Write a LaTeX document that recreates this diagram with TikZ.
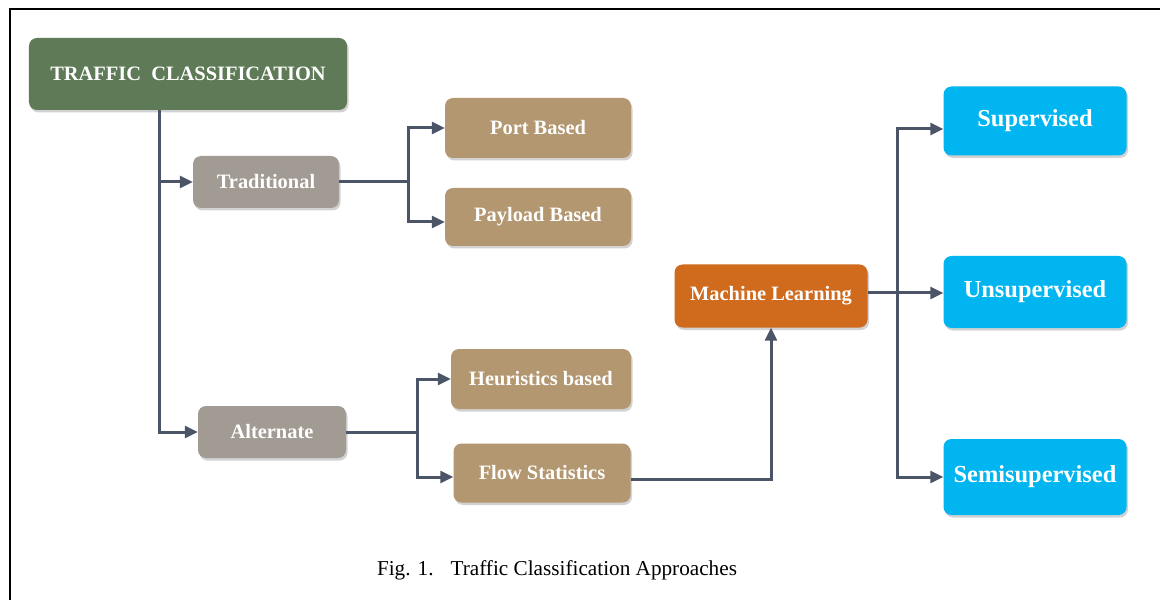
\documentclass[tikz,border=0pt]{standalone}
\usepackage{fontspec}
\setmainfont{Liberation Serif}
\usetikzlibrary{arrows.meta,shadows}
\definecolor{tcgreen}{HTML}{5F7A56}
\definecolor{tradgray}{HTML}{A29B93}
\definecolor{tan}{HTML}{B39770}
\definecolor{mlorange}{HTML}{D06A1C}
\definecolor{cyanbox}{HTML}{00B5F0}
\definecolor{conncol}{HTML}{4C5467}
\tikzset{
  box/.style={rounded corners=8bp, inner sep=0pt, text=white,
    font=\bfseries\fontsize{20.5}{24}\selectfont,
    drop shadow={opacity=0.35, shadow xshift=1.5bp, shadow yshift=-2.5bp}},
  greenbox/.style={box, fill=tcgreen},
  graybox/.style={box, fill=tradgray},
  tanbox/.style={box, fill=tan},
  orangebox/.style={box, fill=mlorange},
  cyanb/.style={box, fill=cyanbox, font=\bfseries\fontsize{24.5}{28}\selectfont},
  conn/.style={draw=conncol, line width=3bp},
  arr/.style={conn, -{Triangle[length=13bp,width=12bp]}},
}
\begin{document}
\begin{tikzpicture}[x=1bp,y=-1bp]
\useasboundingbox (0,0) rectangle (1160,600);
\fill[white] (0,0) rectangle (1160,600);
\draw[line width=2bp] (10,600) -- (10,9) -- (1160,9);

\node[greenbox, minimum width=318bp, minimum height=72bp] (tc) at (188,74) {TRAFFIC\ \ CLASSIFICATION};
\node[graybox, minimum width=146bp, minimum height=52bp] (trad) at (266,182) {Traditional};
\node[tanbox, minimum width=186bp, minimum height=60bp] (port) at (538,128) {Port Based};
\node[tanbox, minimum width=186bp, minimum height=58bp] (pay) at (538,217) {Payload\ Based};
\node[graybox, minimum width=148bp, minimum height=52bp] (alt) at (272,432) {Alternate};
\node[tanbox, minimum width=180bp, minimum height=60bp] (heur) at (541,379) {Heuristics based};
\node[tanbox, minimum width=177bp, minimum height=59bp] (flow) at (542,473) {Flow Statistics};
\node[orangebox, minimum width=193bp, minimum height=63bp] (ml) at (771,296) {Machine Learning};
\node[cyanb, minimum width=183bp, minimum height=69bp] (sup) at (1035,121) {Supervised};
\node[cyanb, minimum width=183bp, minimum height=72bp] (uns) at (1035,292) {Unsupervised};
\node[cyanb, minimum width=183bp, minimum height=76bp] (semi) at (1035,477) {Semisupervised};

\coordinate (trunk) at (159,0);
\coordinate (b1) at (408,182);
\coordinate (b2) at (417,432);
\coordinate (b3) at (897,0);

\draw[arr] (tc.south -| trunk) |- (alt.west);
\draw[arr] (trunk |- trad.west) -- (trad.west);

\draw[conn] (trad.east) -- (b1);
\draw[arr] (b1) |- (port.west);
\draw[arr] (b1) |- ([yshift=-5bp]pay.west);

\draw[conn] (alt.east) -- (b2);
\draw[arr] (b2) |- (heur.west);
\draw[arr] (b2) |- ([yshift=-4bp]flow.west);

\draw[arr] ([yshift=-6bp]flow.east) -| (ml.south);

\draw[arr] ([yshift=3bp]ml.east) -- ([yshift=3bp]ml.east -| uns.west);
\draw[arr] (b3 |- ml.east) |- ([yshift=-8bp]sup.west);
\draw[arr] (b3 |- ml.east) |- (semi.west);

\node[font=\fontsize{21.3}{24}\selectfont, inner sep=0pt] (cap) at (557,570) {Fig. 1.\hspace{0.8em}Traffic Classification Approaches};
\end{tikzpicture}
\end{document}
